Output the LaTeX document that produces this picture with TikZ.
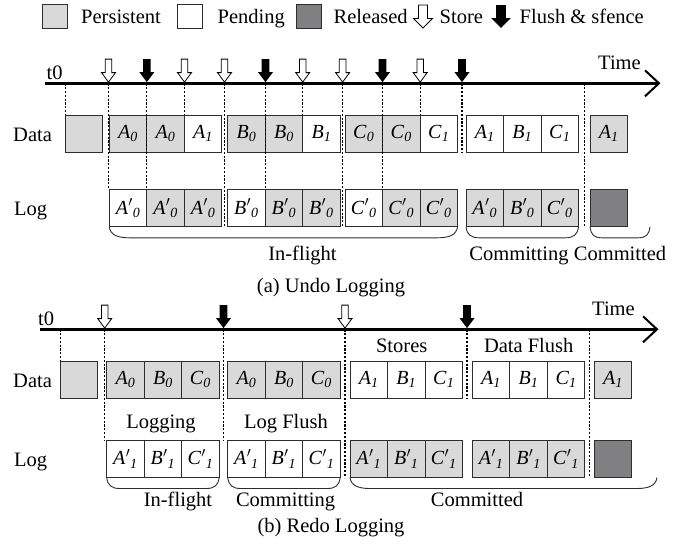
\documentclass[tikz,border=0pt]{standalone}
\usepackage{fontspec}
\setmainfont{Liberation Serif}
\usetikzlibrary{calc}
\definecolor{lgray}{RGB}{217,217,217}
\definecolor{dgray}{RGB}{128,128,130}
\definecolor{edge}{RGB}{45,45,45}
\newcommand\ssb[2]{\textit{#1}\textsubscript{\textit{#2}}}
\newcommand\psb[2]{\textit{#1}\kern0.3pt$'$\textsubscript{\textit{#2}}}
\newcommand\cellgrp[9]{%
  \node[#4] (#1-1) at (#2,#3) {#7};
  \node[#5] (#1-2) at (#1-1.north east) {#8};
  \node[#6] (#1-3) at (#1-2.north east) {#9};}
\tikzset{
  cell/.style={draw=edge, line width=0.9pt, minimum width=37.5pt, minimum height=37.5pt,
    inner sep=0pt, outer sep=0pt, anchor=north west, font=\fontsize{20}{24}\selectfont},
  pers/.style={cell, fill=lgray},
  pend/.style={cell, fill=white},
  rel/.style={cell, fill=dgray},
  legbox/.style={minimum width=25pt, minimum height=24pt},
  lbl/.style={anchor=base west, inner sep=0pt, font=\fontsize{20.5}{24}\selectfont},
  clbl/.style={anchor=base, inner sep=0pt, font=\fontsize{20.5}{24}\selectfont},
  timeline/.style={line width=2.4pt, black},
  chev/.style={line width=2pt, black},
  vdash/.style={line width=1.1pt, dash pattern=on 2.2pt off 1.6pt, black},
  bracep/.style={line width=0.9pt, edge},
  storepic/.pic={\draw[line width=0.8pt, fill=white] (-3.3,-23) -- (3.3,-23) -- (3.3,-9.5) -- (7,-9.5) -- (0,0) -- (-7,-9.5) -- (-3.3,-9.5) -- cycle;},
  flushpic/.pic={\fill[black] (-3.8,-23) -- (3.8,-23) -- (3.8,-10) -- (7.5,-10) -- (0,0) -- (-7.5,-10) -- (-3.8,-10) -- cycle;},
}
\begin{document}
\begin{tikzpicture}[x=1pt, y=-1pt]
\useasboundingbox (0,0) rectangle (694,552);

% ---------------- legend ----------------
\node[pers, legbox] (lgP) at (42.5,4) {};
\node[lbl] (lgPt) at (81,23) {Persistent};
\node[pend, legbox] (lgN) at (177,4) {};
\node[lbl] (lgNt) at (217.5,23) {Pending};
\node[rel, legbox] (lgR) at (296,4) {};
\node[lbl] (lgRt) at (333.5,23) {Released};
\pic[xscale=1.35] at (423,28) {storepic};
\node[lbl] (lgSt) at (439.5,23) {Store};
\pic[xscale=1.3] at (501,28) {flushpic};
\node[lbl] (lgFt) at (519.5,23) {Flush \& sfence};

% ---------------- (a) Undo logging ----------------
\coordinate (ut0) at (45,83.3);
\coordinate (utend) at (659,83.3);
\draw[timeline] (ut0) -- ($(utend)+(-1,0)$);
\draw[chev] ($(utend)+(-14,-13)$) -- (utend) -- ($(utend)+(-14,13)$);
\node[lbl] (ut0l) at (46.5,79.3) {t0};
\node[lbl] (utime) at (598,69.3) {Time};

\node[lbl] (udl) at (13,141) {Data};
\node[lbl] (ull) at (14,215.3) {Log};

\node[pers, minimum width=37pt] (ud0) at (65.7,115) {};
\cellgrp{udA}{109.3}{115}{pers}{pers}{pend}{\ssb{A}{0}}{\ssb{A}{0}}{\ssb{A}{1}}
\cellgrp{udB}{227.7}{115}{pers}{pers}{pend}{\ssb{B}{0}}{\ssb{B}{0}}{\ssb{B}{1}}
\cellgrp{udC}{345}{115}{pers}{pers}{pend}{\ssb{C}{0}}{\ssb{C}{0}}{\ssb{C}{1}}
\cellgrp{udD}{466}{115}{pend}{pend}{pend}{\ssb{A}{1}}{\ssb{B}{1}}{\ssb{C}{1}}
\node[pers] (udE) at (590,115) {\ssb{A}{1}};

\cellgrp{ulA}{109.3}{189.3}{pend}{pers}{pers}{\psb{A}{0}}{\psb{A}{0}}{\psb{A}{0}}
\cellgrp{ulB}{227.7}{189.3}{pend}{pers}{pers}{\psb{B}{0}}{\psb{B}{0}}{\psb{B}{0}}
\cellgrp{ulC}{345}{189.3}{pend}{pers}{pers}{\psb{C}{0}}{\psb{C}{0}}{\psb{C}{0}}
\cellgrp{ulD}{466}{189.3}{pers}{pers}{pers}{\psb{A}{0}}{\psb{B}{0}}{\psb{C}{0}}
\node[rel] (ulE) at (590,189.3) {};

\coordinate (ua1) at (108.5,83.3);
\coordinate (ua2) at (146.8,83.3);
\coordinate (ua3) at (184.5,83.3);
\coordinate (ua4) at (224.5,83.3);
\coordinate (ua5) at (265.5,83.3);
\coordinate (ua6) at (302.7,83.3);
\coordinate (ua7) at (342.6,83.3);
\coordinate (ua8) at (382.5,83.3);
\coordinate (ua9) at (420.2,83.3);
\coordinate (ua10) at (462,83.3);
\coordinate (uaf) at (584.3,83.3);

\draw[vdash] (ud0.north west |- ut0) -- (ud0.north west);
\draw[vdash] (ua1) -- (ua1 |- ulA-1.north);
\draw[vdash] (ua2) -- (ua2 |- ulA-2.north);
\draw[vdash] (ua3) -- (ua3 |- udA-3.north);
\draw[vdash] (ua4) -- (ua4 |- ulA-3.south);
\draw[vdash] (ua5) -- (ua5 |- ulB-2.north);
\draw[vdash] (ua6) -- (ua6 |- udB-3.north);
\draw[vdash] (ua7) -- (ua7 |- ulB-3.south);
\draw[vdash] (ua8) -- (ua8 |- ulC-2.north);
\draw[vdash] (ua9) -- (ua9 |- udC-3.north);
\draw[vdash] (ua10) -- (ua10 |- udC-3.south);
\draw[vdash] (uaf) -- (uaf |- ulD-3.south);

\pic at ($(ua1)+(0,-1.2)$) {storepic};
\pic at ($(ua2)+(0,-1.2)$) {flushpic};
\pic at ($(ua3)+(0,-1.2)$) {storepic};
\pic at ($(ua4)+(0,-1.2)$) {storepic};
\pic at ($(ua5)+(0,-1.2)$) {flushpic};
\pic at ($(ua6)+(0,-1.2)$) {storepic};
\pic at ($(ua7)+(0,-1.2)$) {storepic};
\pic at ($(ua8)+(0,-1.2)$) {flushpic};
\pic at ($(ua9)+(0,-1.2)$) {storepic};
\pic at ($(ua10)+(0,-1.2)$) {flushpic};

\coordinate (ucend) at (650,226.8);
\draw[bracep] (ulA-1.south west) .. controls +(1,8) and +(-12,0) .. ($(ulA-1.south west)+(20,11)$)
  -- ($(ulC-3.south east)+(-20,11)$) .. controls +(12,0) and +(-1,8) .. (ulC-3.south east);
\draw[bracep] (ulD-1.south west) .. controls +(1,8) and +(-8,0) .. ($(ulD-1.south west)+(13,11)$)
  -- ($(ulD-3.south east)+(-13,11)$) .. controls +(8,0) and +(-1,8) .. (ulD-3.south east);
\draw[bracep] (ulE.south west) .. controls +(1,8) and +(-8,0) .. ($(ulE.south west)+(12,11)$)
  -- ($(ucend)+(-12,11)$) .. controls +(8,0) and +(-1,8) .. (ucend);

\node[clbl] (uif) at (302.5,260) {In-flight};
\node[clbl] (ucmg) at (519,260) {Committing};
\node[clbl] (ucmd) at (620,260) {Committed};
\node[clbl] (ucap) at (331,292) {(a) Undo Logging};

% ---------------- (b) Redo logging ----------------
\coordinate (rt0) at (40,329.3);
\coordinate (rtend) at (657,329.3);
\draw[timeline] (rt0) -- ($(rtend)+(-1,0)$);
\draw[chev] ($(rtend)+(-14,-13)$) -- (rtend) -- ($(rtend)+(-14,13)$);
\node[lbl] (rt0l) at (38,325.3) {t0};
\node[lbl] (rtime) at (592,315) {Time};

\node[lbl] (rdl) at (13,387) {Data};
\node[lbl] (rll) at (14,466) {Log};

\node[pers, minimum width=37pt] (rd0) at (60.7,361) {};
\cellgrp{rdA}{106.7}{361}{pers}{pers}{pers}{\ssb{A}{0}}{\ssb{B}{0}}{\ssb{C}{0}}
\cellgrp{rdB}{227.7}{361}{pers}{pers}{pers}{\ssb{A}{0}}{\ssb{B}{0}}{\ssb{C}{0}}
\cellgrp{rdC}{350}{361}{pend}{pend}{pend}{\ssb{A}{1}}{\ssb{B}{1}}{\ssb{C}{1}}
\cellgrp{rdD}{472.3}{361}{pend}{pend}{pend}{\ssb{A}{1}}{\ssb{B}{1}}{\ssb{C}{1}}
\node[pers] (rdE) at (594.3,361) {\ssb{A}{1}};

\cellgrp{rlA}{106.7}{440}{pend}{pend}{pend}{\psb{A}{1}}{\psb{B}{1}}{\psb{C}{1}}
\cellgrp{rlB}{227.7}{440}{pend}{pend}{pend}{\psb{A}{1}}{\psb{B}{1}}{\psb{C}{1}}
\cellgrp{rlC}{350}{440}{pers}{pers}{pers}{\psb{A}{1}}{\psb{B}{1}}{\psb{C}{1}}
\cellgrp{rlD}{472.3}{440}{pers}{pers}{pers}{\psb{A}{1}}{\psb{B}{1}}{\psb{C}{1}}
\node[rel] (rlE) at (594.3,440) {};

\coordinate (rb1) at (104.7,329.3);
\coordinate (rb2) at (223.5,329.3);
\coordinate (rb3) at (345,329.3);
\coordinate (rb4) at (467,329.3);
\coordinate (rbf) at (589.3,329.3);

\draw[vdash] (rd0.north west |- rt0) -- (rd0.north west);
\draw[vdash] (rb1) -- (rb1 |- rlA-1.north);
\draw[vdash] (rb2) -- (rb2 |- rlB-1.north);
\draw[vdash] (rb3) -- (rb3 |- rlB-3.south);
\draw[vdash] (rb4) -- (rb4 |- rdC-3.south);
\draw[vdash] (rbf) -- (rbf |- rlD-3.south);

\pic at ($(rb1)+(0,-1.2)$) {storepic};
\pic at ($(rb2)+(0,-1.2)$) {flushpic};
\pic at ($(rb3)+(0,-1.2)$) {storepic};
\pic at ($(rb4)+(0,-1.2)$) {flushpic};

\node[clbl] (rlog) at (161,428.5) {Logging};
\node[clbl] (rlfl) at (286,428.5) {Log Flush};
\node[clbl] (rsto) at (401.7,352.5) {Stores};
\node[clbl] (rdfl) at (528.7,352.5) {Data Flush};

\coordinate (rcend) at (657,477.5);
\draw[bracep] (rlA-1.south west) .. controls +(1,8) and +(-8,0) .. ($(rlA-1.south west)+(13,11)$)
  -- ($(rlA-3.south east)+(-13,11)$) .. controls +(8,0) and +(-1,8) .. (rlA-3.south east);
\draw[bracep] (rlB-1.south west) .. controls +(1,8) and +(-8,0) .. ($(rlB-1.south west)+(13,11)$)
  -- ($(rlB-3.south east)+(-13,11)$) .. controls +(8,0) and +(-1,8) .. (rlB-3.south east);
\draw[bracep] (rlC-1.south west) .. controls +(1,8) and +(-12,0) .. ($(rlC-1.south west)+(20,11)$)
  -- ($(rcend)+(-20,11)$) .. controls +(12,0) and +(-1,8) .. (rcend);

\node[clbl] (rif) at (178,506.5) {In-flight};
\node[clbl] (rcmg) at (285.6,506.5) {Committing};
\node[clbl] (rcmd) at (477,506.5) {Committed};
\node[clbl] (rcap) at (331,532) {(b) Redo Logging};
\end{tikzpicture}
\end{document}
